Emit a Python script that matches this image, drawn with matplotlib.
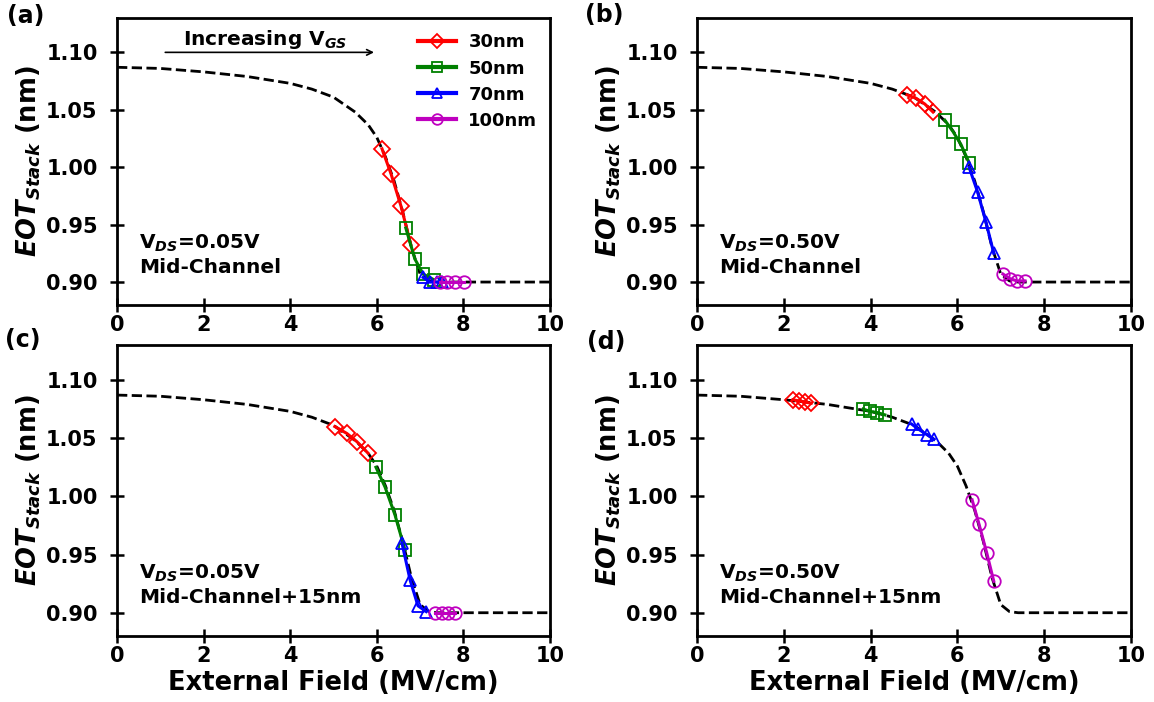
import numpy as np
import matplotlib.pyplot as plt

plt.rcParams['font.family'] = ['DejaVu Sans']
plt.rcParams['font.weight'] = 'bold'
plt.rcParams['mathtext.fontset'] = 'custom'
plt.rcParams['mathtext.it'] = 'DejaVu Sans:italic:bold'
plt.rcParams['mathtext.rm'] = 'DejaVu Sans:bold'
plt.rcParams['mathtext.bf'] = 'DejaVu Sans:bold'

# reference curve (dashed)
ref_x = [0, 1, 2, 3, 4, 4.5, 5, 5.5, 5.8, 6.0, 6.2, 6.4, 6.6, 6.8, 7.0, 7.2, 7.4, 8, 10]
ref_y = [1.087, 1.086, 1.083, 1.079, 1.073, 1.068, 1.061, 1.048, 1.037, 1.026,
         1.009, 0.988, 0.961, 0.930, 0.907, 0.901, 0.900, 0.900, 0.900]

labels = ['30nm', '50nm', '70nm', '100nm']
colors = ['r', 'g', 'b', 'm']
markers = ['D', 's', '^', 'o']

# panel (a): VDS=0.05V, mid-channel
a_x = [[6.12, 6.33, 6.56, 6.79], [6.67, 6.88, 7.07, 7.32],
       [7.07, 7.23, 7.39, 7.50], [7.46, 7.62, 7.81, 8.02]]
a_y = [[1.016, 0.994, 0.966, 0.932], [0.947, 0.920, 0.907, 0.902],
       [0.904, 0.900, 0.900, 0.900], [0.900, 0.900, 0.900, 0.900]]

# panel (b): VDS=0.50V, mid-channel
b_x = [[4.84, 5.05, 5.25, 5.44], [5.71, 5.90, 6.08, 6.27],
       [6.27, 6.47, 6.66, 6.84], [7.05, 7.21, 7.37, 7.56]]
b_y = [[1.063, 1.060, 1.055, 1.048], [1.041, 1.031, 1.020, 1.004],
       [1.000, 0.978, 0.952, 0.925], [0.907, 0.903, 0.901, 0.901]]

# panel (c): VDS=0.05V, mid-channel+15nm
c_x = [[5.03, 5.31, 5.54, 5.80], [5.98, 6.19, 6.42, 6.65],
       [6.58, 6.77, 6.95, 7.14], [7.34, 7.50, 7.64, 7.80]]
c_y = [[1.060, 1.054, 1.047, 1.037], [1.025, 1.008, 0.984, 0.954],
       [0.960, 0.928, 0.906, 0.901], [0.900, 0.900, 0.900, 0.900]]

# panel (d): VDS=0.50V, mid-channel+15nm
d_x = [[2.21, 2.35, 2.49, 2.63], [3.83, 3.99, 4.15, 4.33],
       [4.95, 5.09, 5.30, 5.46], [6.34, 6.50, 6.68, 6.84]]
d_y = [[1.083, 1.082, 1.081, 1.080], [1.075, 1.073, 1.072, 1.070],
       [1.062, 1.058, 1.053, 1.049], [0.997, 0.976, 0.951, 0.927]]

panels = [('(a)', a_x, a_y, 'V$_{DS}$=0.05V\nMid-Channel'),
          ('(b)', b_x, b_y, 'V$_{DS}$=0.50V\nMid-Channel'),
          ('(c)', c_x, c_y, 'V$_{DS}$=0.05V\nMid-Channel+15nm'),
          ('(d)', d_x, d_y, 'V$_{DS}$=0.50V\nMid-Channel+15nm')]

fig = plt.figure(figsize=(11.54, 7.02), dpi=100)
boxes = [[0.1014, 0.5655, 0.3752, 0.409], [0.604, 0.5655, 0.376, 0.409],
         [0.1014, 0.094, 0.3752, 0.4145], [0.604, 0.094, 0.376, 0.4145]]
label_pos = [(0.006, 0.977), (0.507, 0.979), (0.004, 0.515), (0.509, 0.513)]

for i, (tag, xs, ys, note) in enumerate(panels):
    ax = fig.add_axes(boxes[i])
    ax.plot(ref_x, ref_y, 'k--', lw=2.0)
    for j in range(4):
        ax.plot(xs[j], ys[j], color=colors[j], marker=markers[j], ms=9 if markers[j] != 'D' else 8,
                mfc='none', mew=1.3, lw=2.2, label=labels[j])
    ax.set_xlim(0, 10)
    ax.set_ylim(0.88, 1.13)
    ax.set_xticks([0, 2, 4, 6, 8, 10])
    ax.set_yticks([0.90, 0.95, 1.00, 1.05, 1.10])
    ax.tick_params(direction='inout', length=10, width=1.8, labelsize=15)
    ax.tick_params(axis='y', pad=9)
    ax.tick_params(axis='x', pad=2)
    for s in ax.spines.values():
        s.set_linewidth(2)
    ax.set_ylabel(r'$EOT_{Stack}$ (nm)', fontsize=18.5, fontweight='bold', labelpad=2)
    if i >= 2:
        ax.set_xlabel('External Field (MV/cm)', fontsize=18.5, fontweight='bold', labelpad=3)
    ax.text(0.05, 0.175, note, transform=ax.transAxes, fontsize=14.5, fontweight='bold',
            va='center', ha='left', linespacing=1.25)
    fig.text(label_pos[i][0], label_pos[i][1], tag, fontsize=17, fontweight='bold',
             ha='left', va='center')
    if i == 0:
        leg = ax.legend(loc='upper right', frameon=False, fontsize=13, handlelength=2.1,
                        borderaxespad=0.3, labelspacing=0.45, handletextpad=0.7,
                        markerscale=0.85, bbox_to_anchor=(1.0, 0.99))
        for h in leg.legend_handles:
            h.set_linewidth(3)
        ax.annotate('', xy=(6.0, 1.10), xytext=(1.05, 1.10),
                    arrowprops=dict(arrowstyle='->', lw=1.2, color='k'))
        ax.text(3.42, 1.1015, 'Increasing V$_{GS}$', fontsize=14.5, fontweight='bold',
                ha='center', va='bottom')

fig.savefig('out.png', dpi=100)
